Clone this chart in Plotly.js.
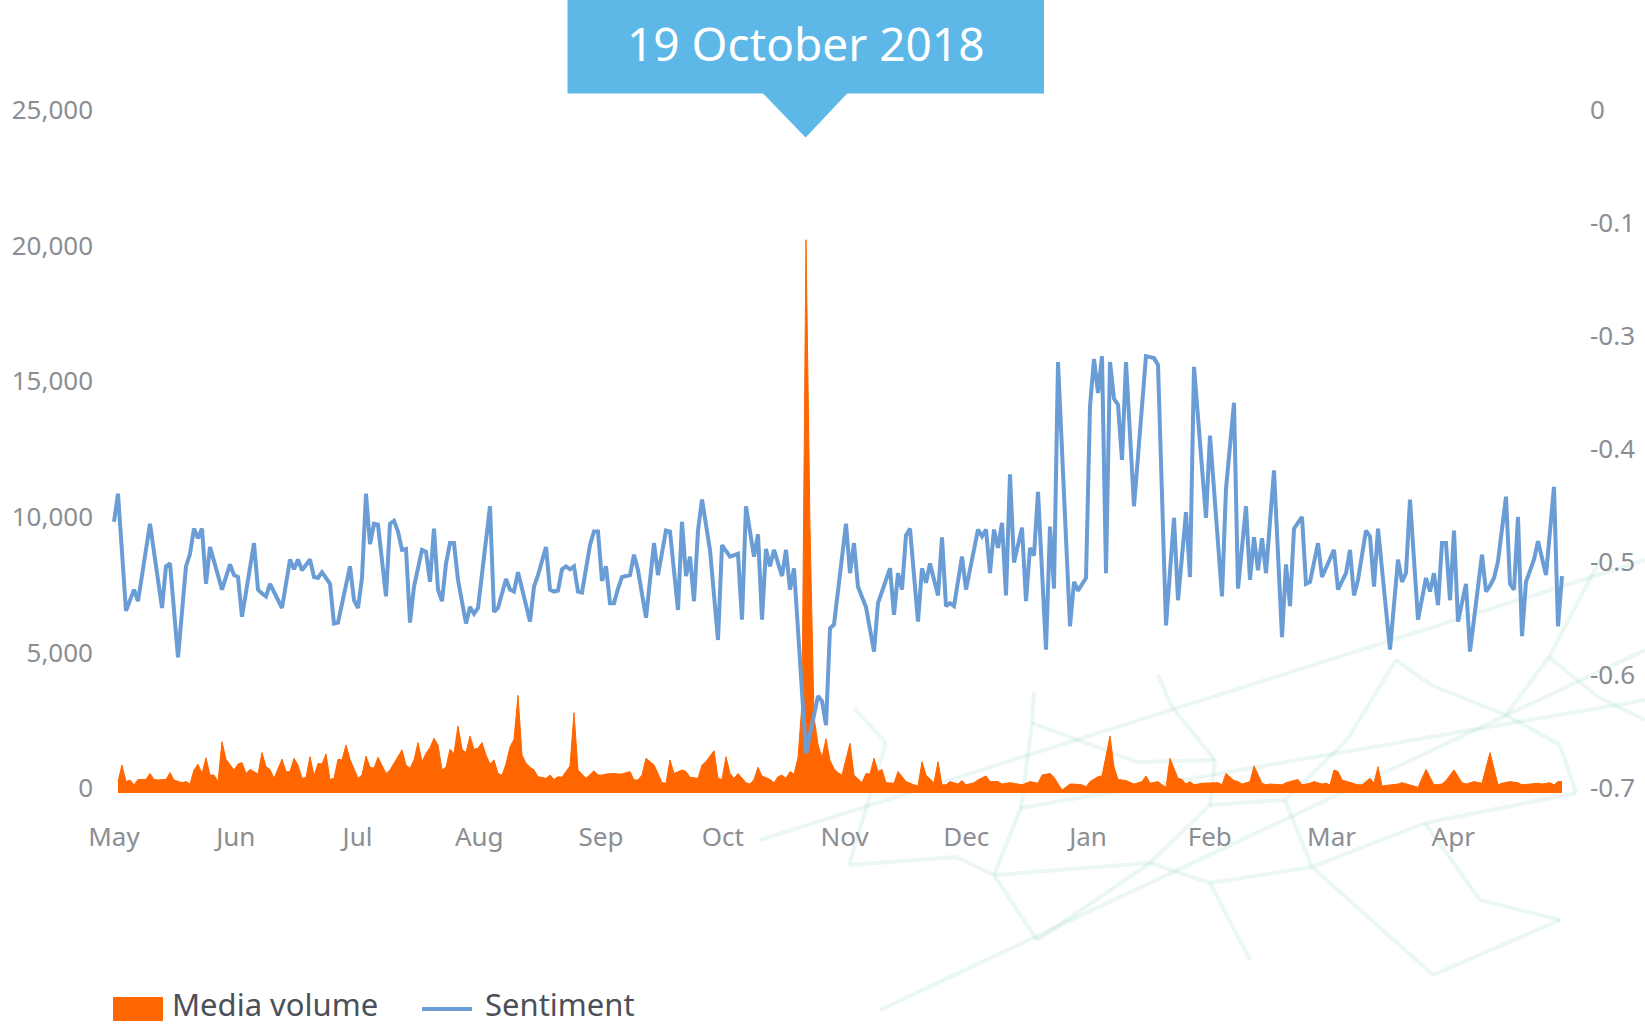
<!DOCTYPE html>
<html>
<head>
<meta charset="utf-8">
<script src="https://cdn.plot.ly/plotly-3.0.1.min.js"></script>
<style>
  html, body { margin: 0; padding: 0; background: #ffffff; }
  #chart { width: 1645px; height: 1026px; }
</style>
</head>
<body>
<div id="chart"></div>
<script>
// ---------------- DATA ----------------
// Days counted from 29 April 2018 (the first day shown on the chart)
const startDate = '2018-04-29';

// Media volume: [day, articles]
const mediaVolume = [
  [1,420],[2,1030],[3,420],[4,480],[5,300],[6,500],[8,500],[9,720],[10,500],[11,480],[13,500],[14,750],[15,480],
  [17,380],[18,420],[19,330],[20,850],[21,1060],[22,720],[23,1300],[24,660],[25,660],[26,420],[27,1890],[28,1240],
  [30,850],[31,1070],[32,1120],[33,720],[34,870],[36,700],[37,1490],[38,970],[39,870],[40,540],[42,1250],[43,790],
  [44,790],[45,1280],[46,1030],[47,540],[48,570],[49,1340],[50,630],[51,1090],[52,1070],[53,1440],[54,500],[55,540],
  [56,1240],[57,1220],[58,1770],[59,1240],[60,910],[61,540],[62,660],[63,1360],[64,950],[65,910],[66,1320],[68,720],
  [69,850],[72,1590],[73,1030],[74,910],[75,1220],[76,1860],[77,1160],[78,1460],[79,1680],[80,2020],[81,1770],
  [82,850],[83,950],[84,1610],[85,1460],[86,2470],[87,1610],[88,1490],[89,2100],[90,1610],[91,1650],[92,1860],
  [93,1400],[94,1070],[95,1220],[96,720],[97,660],[98,1070],[99,1700],[100,1980],[101,3600],[102,1400],[103,1100],
  [104,950],[105,850],[106,600],[108,540],[109,660],[110,500],[111,600],[112,580],[113,790],[114,1000],[115,2960],
  [116,850],[118,540],[119,700],[120,820],[121,660],[122,660],[123,700],[125,720],[126,700],[127,700],[129,790],
  [130,480],[131,480],[132,660],[133,1280],[135,1030],[136,720],[137,380],[138,360],[139,1220],[140,720],[142,850],
  [143,790],[144,580],[146,540],[147,1030],[148,1160],[150,1560],[151,540],[152,500],[153,1340],[154,720],[155,540],
  [156,720],[158,380],[159,330],[160,500],[161,950],[162,630],[164,500],[165,380],[166,600],[167,660],[168,540],
  [169,790],[170,700],[171,1300],[172,3300],[173,20400],[174,9800],[175,2800],[176,1800],[177,1300],[178,2000],
  [179,1200],[180,900],[181,750],[182,660],[184,1830],[185,660],[187,380],[188,720],[189,700],[190,1280],[191,790],
  [192,870],[193,380],[195,360],[196,790],[197,600],[198,420],[200,300],[201,260],[202,1150],[203,660],[205,380],
  [206,1150],[207,300],[208,300],[209,420],[211,330],[212,460],[213,300],[215,380],[216,480],[218,630],[219,420],
  [221,420],[222,330],[223,360],[224,380],[226,330],[227,300],[229,420],[230,380],[231,360],[232,660],[234,720],
  [235,580],[236,360],[237,110],[239,330],[240,330],[242,300],[243,230],[244,420],[246,600],[247,630],[249,2100],
  [250,970],[251,500],[253,460],[254,380],[255,330],[257,420],[258,630],[259,360],[261,420],[262,300],[263,210],
  [264,1280],[266,540],[267,500],[268,330],[269,420],[270,300],[272,360],[274,380],[276,380],[277,300],[278,720],
  [280,460],[281,420],[282,330],[284,420],[285,1000],[287,360],[288,300],[289,330],[292,300],[293,380],[294,420],
  [296,500],[297,300],[299,360],[300,420],[302,330],[303,360],[304,300],[305,850],[306,790],[307,480],[309,380],
  [311,300],[312,300],[314,540],[315,360],[316,970],[317,260],[319,300],[321,330],[322,380],[324,300],[326,210],
  [328,870],[330,300],[332,330],[333,460],[335,850],[337,380],[338,330],[340,420],[342,360],[344,1490],[346,300],
  [347,360],[349,420],[351,380],[352,300],[354,330],[356,360],[357,330],[359,380],[360,300],[361,420],[362,420]
];

// Sentiment: [day, score]
const sentiment = [
  [0,-0.420],[1,-0.391],[3,-0.512],[5,-0.490],[6,-0.502],[9,-0.422],[12,-0.509],[13,-0.466],[14,-0.463],[16,-0.560],
  [18,-0.466],[19,-0.453],[20,-0.427],[21,-0.437],[22,-0.427],[23,-0.484],[24,-0.446],[27,-0.490],[29,-0.464],
  [30,-0.475],[31,-0.477],[32,-0.518],[35,-0.442],[36,-0.490],[37,-0.494],[38,-0.497],[39,-0.484],[42,-0.509],
  [44,-0.459],[45,-0.469],[46,-0.459],[47,-0.470],[49,-0.459],[50,-0.477],[51,-0.478],[52,-0.472],[54,-0.484],
  [55,-0.525],[56,-0.524],[59,-0.466],[60,-0.501],[61,-0.509],[62,-0.478],[63,-0.391],[64,-0.443],[65,-0.422],
  [66,-0.423],[68,-0.497],[69,-0.422],[70,-0.419],[71,-0.430],[72,-0.449],[73,-0.448],[74,-0.524],[75,-0.487],
  [76,-0.470],[77,-0.449],[78,-0.451],[79,-0.482],[80,-0.427],[81,-0.490],[82,-0.502],[83,-0.463],[84,-0.442],
  [85,-0.442],[86,-0.480],[88,-0.525],[89,-0.508],[90,-0.515],[91,-0.509],[94,-0.404],[95,-0.513],[96,-0.509],
  [98,-0.479],[99,-0.490],[100,-0.492],[101,-0.472],[104,-0.523],[105,-0.487],[106,-0.475],[108,-0.446],[109,-0.490],
  [110,-0.492],[111,-0.491],[112,-0.469],[113,-0.466],[114,-0.469],[115,-0.466],[116,-0.492],[117,-0.493],
  [118,-0.466],[119,-0.444],[120,-0.430],[121,-0.430],[122,-0.481],[123,-0.466],[124,-0.504],[125,-0.504],
  [126,-0.489],[127,-0.477],[129,-0.475],[130,-0.454],[131,-0.470],[133,-0.519],[135,-0.442],[136,-0.475],
  [138,-0.429],[139,-0.430],[141,-0.511],[142,-0.420],[143,-0.476],[144,-0.456],[145,-0.502],[146,-0.429],
  [147,-0.397],[149,-0.449],[151,-0.542],[152,-0.444],[154,-0.456],[155,-0.455],[156,-0.453],[157,-0.521],
  [158,-0.404],[160,-0.456],[161,-0.433],[162,-0.521],[163,-0.448],[164,-0.466],[165,-0.449],[167,-0.476],
  [168,-0.449],[169,-0.490],[170,-0.468],[173,-0.659],[176,-0.600],[177,-0.605],[178,-0.630],[179,-0.530],
  [180,-0.526],[183,-0.422],[184,-0.473],[185,-0.442],[186,-0.487],[188,-0.508],[190,-0.554],[191,-0.504],
  [194,-0.468],[195,-0.516],[196,-0.473],[197,-0.490],[198,-0.434],[199,-0.427],[201,-0.523],[202,-0.468],
  [203,-0.483],[204,-0.463],[206,-0.496],[207,-0.436],[208,-0.507],[209,-0.504],[210,-0.507],[212,-0.456],
  [213,-0.490],[216,-0.428],[217,-0.435],[218,-0.428],[219,-0.473],[220,-0.428],[221,-0.447],[222,-0.421],
  [223,-0.496],[224,-0.371],[225,-0.462],[227,-0.426],[228,-0.502],[229,-0.447],[230,-0.455],[231,-0.389],
  [233,-0.552],[234,-0.425],[235,-0.489],[236,-0.255],[238,-0.442],[239,-0.528],[240,-0.482],[241,-0.491],
  [243,-0.478],[244,-0.301],[245,-0.252],[246,-0.287],[247,-0.249],[248,-0.473],[249,-0.255],[250,-0.293],
  [251,-0.299],[252,-0.356],[253,-0.255],[255,-0.404],[258,-0.249],[260,-0.251],[261,-0.258],[263,-0.527],
  [265,-0.416],[266,-0.501],[268,-0.410],[269,-0.477],[270,-0.260],[273,-0.416],[274,-0.331],[277,-0.497],
  [278,-0.386],[280,-0.297],[281,-0.489],[283,-0.404],[284,-0.480],[285,-0.436],[286,-0.470],[287,-0.437],
  [288,-0.473],[290,-0.367],[292,-0.539],[293,-0.464],[294,-0.507],[295,-0.427],[297,-0.415],[298,-0.484],
  [299,-0.482],[301,-0.442],[302,-0.477],[305,-0.449],[306,-0.490],[308,-0.473],[309,-0.449],[310,-0.496],
  [311,-0.480],[313,-0.429],[314,-0.435],[315,-0.487],[316,-0.427],[319,-0.552],[321,-0.459],[322,-0.482],
  [323,-0.473],[324,-0.397],[326,-0.521],[328,-0.478],[329,-0.492],[330,-0.473],[331,-0.506],[332,-0.442],
  [333,-0.442],[334,-0.501],[335,-0.429],[336,-0.523],[338,-0.484],[339,-0.554],[342,-0.454],[343,-0.492],
  [344,-0.486],[345,-0.478],[346,-0.461],[348,-0.394],[349,-0.484],[350,-0.490],[351,-0.415],[352,-0.538],
  [353,-0.482],[355,-0.459],[356,-0.440],[358,-0.475],[360,-0.384],[361,-0.528],[362,-0.476]
];

// Axis labels
const monthLabels = ['May','Jun','Jul','Aug','Sep','Oct','Nov','Dec','Jan','Feb','Mar','Apr'];
const volumeTicks = [0, 5000, 10000, 15000, 20000, 25000];
const sentimentTickText = ['0','-0.1','-0.3','-0.4','-0.5','-0.6','-0.7'];
const highlightLabel = '19 October 2018';
const seriesNames = ['Media volume', 'Sentiment'];

// ---------------- HELPERS ----------------
const DAY = 86400000;
const t0 = Date.parse(startDate + 'T00:00:00Z');
function dayToDate(d) {
  return new Date(t0 + d * DAY).toISOString().replace('T', ' ').slice(0, 19);
}

// plot frame in pixels (used only for decoration placement)
const M = { l: 112, r: 81, t: 115, b: 233 };
const W = 1645, H = 1026;
const PW = W - M.l - M.r, PH = H - M.t - M.b;
const px = x => (x - M.l) / PW;
const py = y => (H - M.b - y) / PH;

const orange = '#ff6600';
const blue = '#6a9cd6';
const callout = '#5db8e8';
const tickGrey = '#8b8e93';
const legendGrey = '#4b5058';

// Month ticks are evenly spaced (one twelfth of a year apart)
const monthTickVals = monthLabels.map((m, i) => dayToDate(i * 365.25 / 12));

const sentTickVals = sentimentTickText.map((s, i) => -0.7 * i / (sentimentTickText.length - 1));

// ---------------- TRACES ----------------
const traces = [
  {
    type: 'scatter', mode: 'lines', name: seriesNames[0],
    x: mediaVolume.map(p => dayToDate(p[0])),
    y: mediaVolume.map(p => p[1]),
    fill: 'tozeroy', fillcolor: orange,
    line: { color: orange, width: 1 },
    yaxis: 'y', showlegend: false, hoverinfo: 'skip'
  },
  {
    type: 'scatter', mode: 'lines', name: seriesNames[1],
    x: sentiment.map(p => dayToDate(p[0])),
    y: sentiment.map(p => p[1]),
    line: { color: blue, width: 4 },
    yaxis: 'y2', showlegend: false, hoverinfo: 'skip'
  }
];

// ---------------- DECORATION ----------------
// faint network pattern in the background (pixel coordinates)
const mesh = [
  [[854,708],[886,743]],[[886,743],[849,865]],[[849,865],[956,857]],[[956,857],[994,875]],
  [[994,875],[1021,808]],[[1021,808],[1032,723]],[[1032,723],[1034,692]],[[1032,723],[1137,762]],
  [[1137,762],[1215,760]],[[1215,760],[1172,707]],[[1172,707],[1158,675]],[[1215,760],[1210,805]],
  [[1210,805],[1285,800]],[[1285,800],[1347,740]],[[1347,740],[1396,660]],[[1396,660],[1431,685]],
  [[1431,685],[1506,715]],[[1506,715],[1549,657]],[[1549,657],[1598,697]],[[1506,715],[1560,745]],
  [[1560,745],[1576,793]],[[1285,800],[1312,867]],[[1312,867],[1425,823]],[[1425,823],[1576,793]],
  [[1210,805],[1150,863]],[[1150,863],[1210,883]],[[1210,883],[1312,867]],[[994,875],[1150,863]],
  [[760,840],[1645,560]],[[880,1010],[1645,650]],[[1020,808],[1645,700]],
  [[1037,940],[1150,863]],[[1037,940],[994,875]],[[1210,883],[1250,960]],[[1312,867],[1433,975]],
  [[1433,975],[1560,920]],[[1425,823],[1480,900]],[[1480,900],[1560,920]],[[1598,697],[1645,720]],
  [[1549,657],[1600,560]]
];
const shapes = mesh.map(seg => ({
  type: 'line', xref: 'paper', yref: 'paper', layer: 'below',
  x0: px(seg[0][0]), y0: py(seg[0][1]), x1: px(seg[1][0]), y1: py(seg[1][1]),
  line: { color: 'rgba(160,218,208,0.22)', width: 4 }
}));

// call-out box
shapes.push({
  type: 'rect', xref: 'paper', yref: 'paper', layer: 'above',
  x0: px(567.5), x1: px(1044), y0: py(93.4), y1: py(-2),
  fillcolor: callout, line: { width: 0 }
});
shapes.push({
  type: 'path', xref: 'paper', yref: 'paper', layer: 'above',
  path: `M ${px(762.6)},${py(93)} L ${px(847.6)},${py(93)} L ${px(805.6)},${py(137.4)} Z`,
  fillcolor: callout, line: { width: 0 }
});

// legend symbols
shapes.push({
  type: 'rect', xref: 'paper', yref: 'paper',
  x0: px(113), x1: px(163), y0: py(1021), y1: py(997),
  fillcolor: orange, line: { width: 0 }
});
shapes.push({
  type: 'line', xref: 'paper', yref: 'paper',
  x0: px(422), x1: px(472), y0: py(1009), y1: py(1009),
  line: { color: blue, width: 4 }
});

const annotations = [
  { xref: 'paper', yref: 'paper', x: px(805.6), y: py(43), text: highlightLabel,
    showarrow: false, xanchor: 'center', yanchor: 'middle',
    font: { family: 'Noto Sans, sans-serif', size: 46, color: '#ffffff' } },
  { xref: 'paper', yref: 'paper', x: px(170), y: py(1003.5), text: seriesNames[0],
    showarrow: false, xanchor: 'left', yanchor: 'middle',
    font: { family: 'Noto Sans, sans-serif', size: 31, color: legendGrey } },
  { xref: 'paper', yref: 'paper', x: px(483), y: py(1003.5), text: seriesNames[1],
    showarrow: false, xanchor: 'left', yanchor: 'middle',
    font: { family: 'Noto Sans, sans-serif', size: 31, color: legendGrey } }
];

const tickFont = { family: 'Noto Sans, sans-serif', size: 26, color: tickGrey };

const layout = {
  width: W, height: H,
  margin: { l: M.l, r: M.r, t: M.t, b: M.b, pad: 0 },
  paper_bgcolor: '#ffffff', plot_bgcolor: 'rgba(0,0,0,0)',
  font: { family: 'Noto Sans, sans-serif' },
  showlegend: false,
  xaxis: {
    type: 'date',
    range: [dayToDate(-0.5), dayToDate(362.5)],
    tickmode: 'array', tickvals: monthTickVals, ticktext: monthLabels,
    showgrid: false, zeroline: false, showline: false, ticks: '',
    tickfont: tickFont, ticklabelstandoff: 26, fixedrange: true
  },
  yaxis: {
    range: [0, 25000],
    tickmode: 'array', tickvals: volumeTicks,
    ticktext: volumeTicks.map(v => v.toLocaleString('en-US')),
    showgrid: false, zeroline: false, showline: false, ticks: '',
    tickfont: tickFont, ticklabelstandoff: 18, ticklabelshift: -5, fixedrange: true
  },
  yaxis2: {
    overlaying: 'y', side: 'right',
    range: [-0.7, 0],
    tickmode: 'array', tickvals: sentTickVals, ticktext: sentimentTickText,
    showgrid: false, zeroline: false, showline: false, ticks: '',
    tickfont: tickFont, ticklabelstandoff: 25, ticklabelshift: -5, fixedrange: true
  },
  shapes: shapes,
  annotations: annotations
};

Plotly.newPlot('chart', traces, layout, { displayModeBar: false, staticPlot: true });
</script>
</body>
</html>
